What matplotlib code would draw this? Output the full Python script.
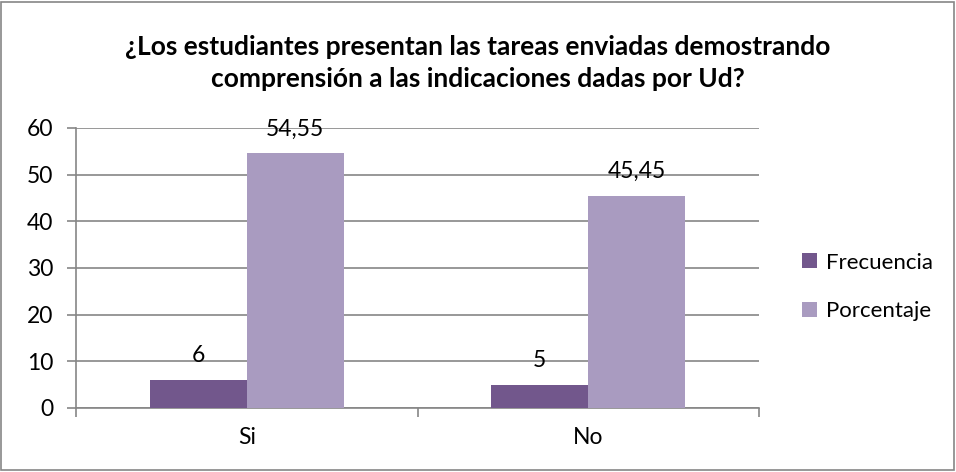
import numpy as np
import matplotlib.pyplot as plt
from matplotlib.patches import Rectangle

categories = ["Si", "No"]
frecuencia = [6, 5]
porcentaje = [54.55, 45.45]
freq_labels = ["6", "5"]
pct_labels = ["54,55", "45,45"]

plt.rcParams['font.family'] = ['Lato', 'DejaVu Sans']

W, H = 956, 472
fig = plt.figure(figsize=(W / 100, H / 100), dpi=100)
# plot area in pixels: x 76..759, y 128..408
ax = fig.add_axes([76 / W, 1 - 408 / H, (759 - 76) / W, (408 - 128) / H])

x = np.arange(len(categories))
w = 0.284
b1 = ax.bar(x - w / 2, frecuencia, w, color="#72578C", label="Frecuencia", zorder=3)
b2 = ax.bar(x + w / 2, porcentaje, w, color="#A99BC0", label="Porcentaje", zorder=3)

for bars, labs in [(b1, freq_labels), (b2, pct_labels)]:
    for rect, lab in zip(bars, labs):
        ax.annotate(lab, (rect.get_x() + rect.get_width() / 2, rect.get_height()),
                    xytext=(0, 10), textcoords="offset points",
                    ha="center", va="bottom", fontsize=16.5)

ax.set_xlim(-0.5, 1.5)
ax.set_ylim(0, 60)
ax.set_yticks(range(0, 61, 10))
ax.yaxis.grid(True, color="#868686", linewidth=1.2, zorder=0)
ax.set_xticks([-0.5, 0.5, 1.5])
ax.set_xticklabels([])
ax.set_xticks(x, minor=True)
ax.set_xticklabels(categories, minor=True, fontsize=16.5)
ax.tick_params(axis="x", which="minor", length=0, pad=14)
ax.tick_params(axis="x", which="major", length=6.5, width=1.2, color="#868686", direction="out")
ax.tick_params(axis="y", length=6.5, width=1.2, color="#868686", labelsize=16.5, pad=10)
for s in ["top", "right"]:
    ax.spines[s].set_visible(False)
for s in ["left", "bottom"]:
    ax.spines[s].set_color("#868686")
    ax.spines[s].set_linewidth(1.2)

fig.legend(handles=[b1, b2], loc="center left", bbox_to_anchor=(802 / W, 1 - 287 / H),
           frameon=False, fontsize=16, handlelength=0.68, handleheight=0.64,
           labelspacing=1.3, handletextpad=0.4, borderpad=0, borderaxespad=0)

fig.text(0.5, 1 - 63 / H, "¿Los estudiantes presentan las tareas enviadas demostrando\n"
         "comprensión a las indicaciones dadas por Ud?", ha="center", va="center",
         fontsize=19, fontweight="bold", linespacing=1.4)

fig.patches.append(Rectangle((1 / W, 2 / H), 1 - 3 / W, 1 - 4 / H, transform=fig.transFigure,
                             fill=False, edgecolor="#868686", linewidth=1.2))

fig.savefig("out.png", dpi=100)
